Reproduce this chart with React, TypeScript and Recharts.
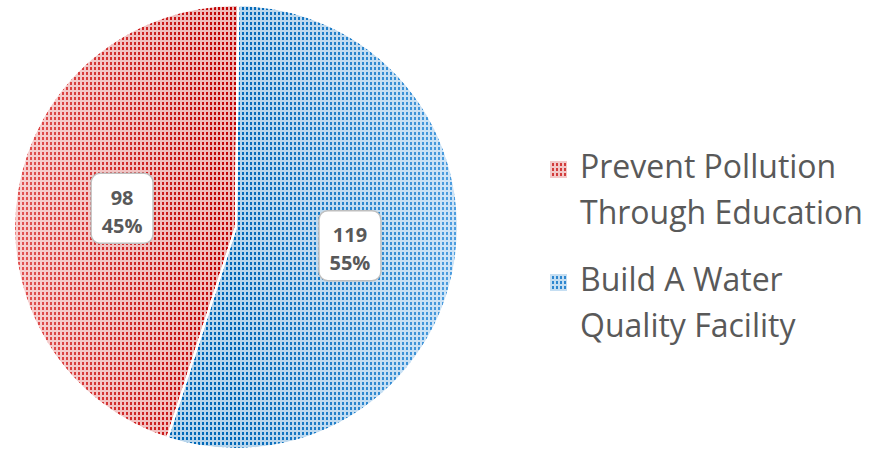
import React from 'react';
import { Cell, Legend, Pie, PieChart } from 'recharts';

// 카테고리 / 값
const categories = ['Prevent Pollution Through Education', 'Build A Water Quality Facility'];
const legendLines = [
  ['Prevent Pollution', 'Through Education'],
  ['Build A Water', 'Quality Facility'],
];
const values = [98, 119];
const gradIds = ['redGrad', 'blueGrad'];
const markerColors = ['#d23c3c', '#2e87cf'];

const data = categories.map((name, i) => ({ name, value: values[i] }));

const RAD = Math.PI / 180;

const renderLabel = (props: any) => {
  const { cx, cy, midAngle, outerRadius, value, percent } = props;
  const r = outerRadius * 0.52;
  const x = cx + r * Math.cos(-midAngle * RAD);
  const y = cy + r * Math.sin(-midAngle * RAD);
  return (
    <g>
      <rect x={x - 31} y={y - 35} width={62} height={70} rx={9} fill="#fff" stroke="#bfbfbf" strokeWidth={1.5} />
      <text x={x} y={y - 11} textAnchor="middle" dominantBaseline="central" fill="#595959" fontSize={20} fontWeight="bold">
        {value}
      </text>
      <text x={x} y={y + 17} textAnchor="middle" dominantBaseline="central" fill="#595959" fontSize={20} fontWeight="bold">
        {`${Math.round(percent * 100)}%`}
      </text>
    </g>
  );
};

const LegendContent = () => (
  <div>
    {legendLines.map((lines, i) => (
      <div key={i} style={{ display: 'flex', alignItems: 'flex-start', marginBottom: i === 0 ? 21 : 0 }}>
        <svg width={17} height={17} style={{ marginTop: 18, marginRight: 13, flexShrink: 0 }}>
          <rect width={17} height={17} fill={markerColors[i]} />
          <rect width={17} height={17} fill="url(#grid)" />
        </svg>
        <div style={{ fontSize: 32, lineHeight: '46px', color: '#595959' }}>
          {lines.map((l) => (
            <div key={l} style={{ whiteSpace: 'nowrap' }}>{l}</div>
          ))}
        </div>
      </div>
    ))}
  </div>
);

export default function App() {
  return (
    <div style={{ position: 'absolute', left: 0, top: 0, width: 871, height: 452, background: '#fff', fontFamily: '"Open Sans", sans-serif' }}>
      <svg width={0} height={0} style={{ position: 'absolute' }}>
        <defs>
          <linearGradient id="redGrad" gradientUnits="userSpaceOnUse" x1={12} y1={0} x2={236} y2={0}>
            <stop offset="0%" stopColor="#e25555" />
            <stop offset="100%" stopColor="#c00000" />
          </linearGradient>
          <linearGradient id="blueGrad" gradientUnits="userSpaceOnUse" x1={236} y1={0} x2={460} y2={0}>
            <stop offset="0%" stopColor="#0068b8" />
            <stop offset="100%" stopColor="#4e9ee0" />
          </linearGradient>
          <pattern id="grid" patternUnits="userSpaceOnUse" width={4} height={5}>
            <rect x={0} y={0} width={4} height={2} fill="#fff" fillOpacity={0.72} />
            <rect x={0} y={2} width={2} height={3} fill="#fff" fillOpacity={0.72} />
          </pattern>
        </defs>
      </svg>
      <PieChart width={871} height={452} margin={{ top: 0, right: 0, bottom: 0, left: 0 }}>
        <Pie
          data={data}
          dataKey="value"
          nameKey="name"
          cx={236}
          cy={227}
          outerRadius={222}
          startAngle={-108}
          endAngle={-468}
          stroke="#fff"
          strokeWidth={2}
          isAnimationActive={false}
          labelLine={false}
        >
          {data.map((d, i) => (
            <Cell key={d.name} fill={`url(#${gradIds[i]})`} />
          ))}
        </Pie>
        <Pie
          data={data}
          dataKey="value"
          nameKey="name"
          cx={236}
          cy={227}
          outerRadius={222}
          startAngle={-108}
          endAngle={-468}
          stroke="#fff"
          strokeWidth={2}
          fill="url(#grid)"
          isAnimationActive={false}
          labelLine={false}
          label={renderLabel}
        />
        <Legend
          content={<LegendContent />}
          wrapperStyle={{ position: 'absolute', left: 550, top: 143, width: 320 }}
        />
      </PieChart>
    </div>
  );
}
